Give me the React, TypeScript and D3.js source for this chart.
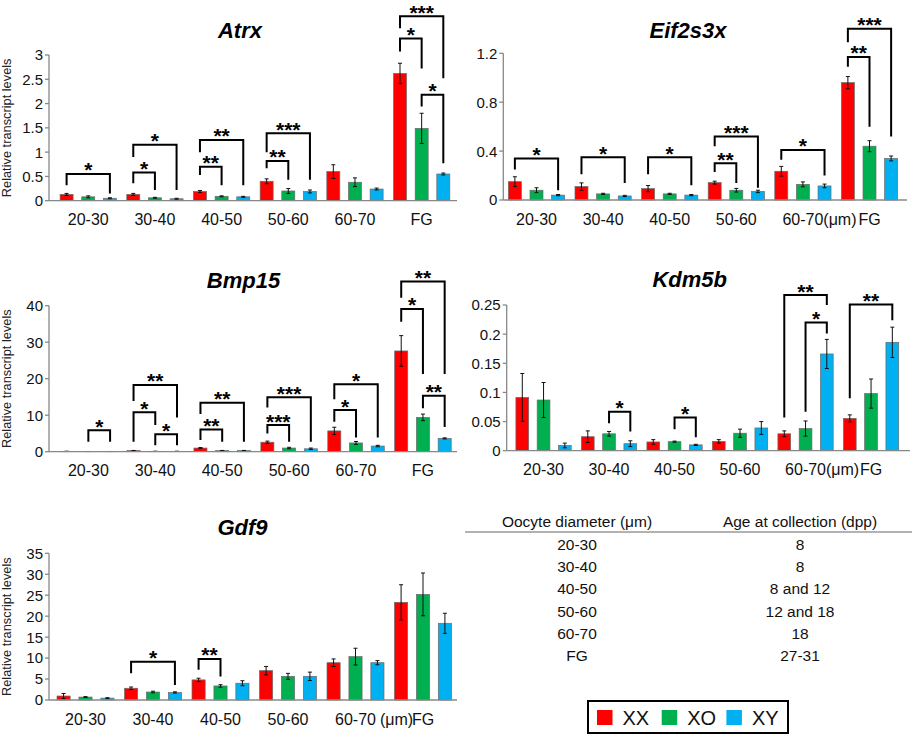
import * as d3 from "d3";

const FONT = "'Liberation Sans', Arial, sans-serif";

const categories = ["20-30", "30-40", "40-50", "50-60", "60-70", "FG"];
const series = ["XX", "XO", "XY"];
const seriesColors = ["#FF0000", "#00B050", "#00B0F0"];
const unitLabel = "(\u03bcm)";

// Atrx
const atrxXX = [0.13, 0.13, 0.19, 0.4, 0.6, 2.62];
const atrxXO = [0.08, 0.06, 0.09, 0.2, 0.38, 1.49];
const atrxXY = [0.05, 0.04, 0.08, 0.19, 0.24, 0.55];
const atrxXXErr = [0.02, 0.02, 0.02, 0.05, 0.14, 0.21];
const atrxXOErr = [0.02, 0.01, 0.01, 0.05, 0.09, 0.31];
const atrxXYErr = [0.01, 0.01, 0.01, 0.03, 0.02, 0.02];
const atrxTicks = [0, 0.5, 1, 1.5, 2, 2.5, 3];
// [category, series a, series b, bracket level, leg a bottom, leg b bottom, label]
const atrxBrackets: [number, number, number, number, number, number, string][] = [
  [0, 0, 2, 0.55, 0.32, 0.15, "*"],
  [1, 0, 1, 0.58, 0.36, 0.22, "*"],
  [1, 0, 2, 1.15, 0.9, 0.22, "*"],
  [2, 0, 1, 0.7, 0.53, 0.32, "**"],
  [2, 0, 2, 1.25, 1.0, 0.32, "**"],
  [3, 0, 1, 0.82, 0.67, 0.43, "**"],
  [3, 0, 2, 1.39, 1.0, 0.43, "***"],
  [5, 0, 1, 3.34, 3.07, 2.72, "*"],
  [5, 0, 2, 3.8, 3.55, 2.52, "***"],
  [5, 1, 2, 2.18, 1.94, 0.77, "*"],
];

// Eif2s3x
const eifXX = [0.15, 0.11, 0.093, 0.142, 0.235, 0.96];
const eifXO = [0.08, 0.05, 0.05, 0.08, 0.128, 0.44];
const eifXY = [0.04, 0.033, 0.04, 0.07, 0.115, 0.34];
const eifXXErr = [0.04, 0.03, 0.025, 0.012, 0.04, 0.05];
const eifXOErr = [0.02, 0.005, 0.005, 0.015, 0.02, 0.045];
const eifXYErr = [0.005, 0.005, 0.005, 0.01, 0.015, 0.02];
const eifTicks = [0, 0.4, 0.8, 1.2];
const eifBrackets: [number, number, number, number, number, number, string][] = [
  [0, 0, 2, 0.34, 0.25, 0.08, "*"],
  [1, 0, 2, 0.35, 0.21, 0.14, "*"],
  [2, 0, 2, 0.35, 0.21, 0.12, "*"],
  [3, 0, 1, 0.3, 0.23, 0.14, "**"],
  [3, 0, 2, 0.52, 0.44, 0.1, "***"],
  [4, 0, 2, 0.41, 0.33, 0.2, "*"],
  [5, 0, 1, 1.17, 1.09, 0.6, "**"],
  [5, 0, 2, 1.4, 1.29, 0.52, "***"],
];

// Bmp15
const bmpXX = [0.1, 0.3, 1.0, 2.6, 5.7, 27.6];
const bmpXO = [0.05, 0.1, 0.3, 1.0, 2.4, 9.4];
const bmpXY = [0.05, 0.1, 0.3, 0.8, 1.55, 3.65];
const bmpXXErr = [0.02, 0.05, 0.15, 0.3, 1.0, 4.2];
const bmpXOErr = [0.01, 0.02, 0.05, 0.2, 0.4, 0.9];
const bmpXYErr = [0.01, 0.02, 0.05, 0.2, 0.2, 0.15];
const bmpTicks = [0, 10, 20, 30, 40];
const bmpBrackets: [number, number, number, number, number, number, string][] = [
  [0, 1, 2, 5.9, 2.7, 2.7, "*"],
  [1, 0, 1, 10.8, 2.7, 7.3, "*"],
  [1, 1, 2, 4.8, 1.8, 1.8, "*"],
  [1, 0, 2, 18.3, 13.9, 9.4, "**"],
  [2, 0, 1, 6.1, 3.2, 2.7, "**"],
  [2, 0, 2, 13.4, 10.3, 2.7, "**"],
  [3, 0, 1, 7.3, 5.0, 2.7, "***"],
  [3, 0, 2, 14.9, 12.1, 2.7, "***"],
  [4, 0, 1, 11.4, 8.2, 3.9, "*"],
  [4, 0, 2, 18.5, 14.4, 3.9, "*"],
  [5, 0, 1, 39.1, 35.6, 21.3, "*"],
  [5, 0, 2, 46.6, 42.2, 21.3, "**"],
  [5, 1, 2, 15.3, 11.9, 6.8, "**"],
];

// Kdm5b
const kdmXX = [0.0915, 0.024, 0.015, 0.016, 0.029, 0.0555];
const kdmXO = [0.087, 0.029, 0.0155, 0.03, 0.038, 0.098];
const kdmXY = [0.009, 0.012, 0.01, 0.039, 0.166, 0.186];
const kdmXXErr = [0.041, 0.01, 0.004, 0.003, 0.005, 0.006];
const kdmXOErr = [0.03, 0.004, 0.001, 0.007, 0.013, 0.025];
const kdmXYErr = [0.004, 0.005, 0.001, 0.011, 0.025, 0.026];
const kdmTicks = [0, 0.05, 0.1, 0.15, 0.2, 0.25];
const kdmBrackets: [number, number, number, number, number, number, string][] = [
  [1, 1, 2, 0.067, 0.047, 0.033, "*"],
  [2, 1, 2, 0.057, 0.037, 0.023, "*"],
  [4, 0, 2, 0.267, 0.057, 0.25, "**"],
  [4, 1, 2, 0.22, 0.067, 0.201, "*"],
  [5, 0, 2, 0.251, 0.09, 0.224, "**"],
];

// Gdf9
const gdfXX = [0.95, 2.8, 4.8, 7.0, 8.9, 23.3];
const gdfXO = [0.7, 1.9, 3.35, 5.65, 10.35, 25.2];
const gdfXY = [0.45, 1.8, 4.0, 5.65, 8.9, 18.3];
const gdfXXErr = [0.6, 0.3, 0.4, 1.0, 0.9, 4.2];
const gdfXOErr = [0.1, 0.2, 0.3, 0.7, 2.0, 5.1];
const gdfXYErr = [0.1, 0.15, 0.6, 1.0, 0.5, 2.4];
const gdfTicks = [0, 5, 10, 15, 20, 25, 30, 35];
const gdfBrackets: [number, number, number, number, number, number, string][] = [
  [1, 0, 2, 9.15, 6.4, 3.6, "*"],
  [2, 0, 1, 9.8, 7.2, 5.6, "**"],
];

// table
const tableHeaders = ["Oocyte diameter (\u03bcm)", "Age at collection (dpp)"];
const tableDiameters = ["20-30", "30-40", "40-50", "50-60", "60-70", "FG"];
const tableAges = ["8", "8", "8 and 12", "12 and 18", "18", "27-31"];

type PanelProps = {
  title: string;
  values: number[][];
  errors: number[][];
  ticks: number[];
  brackets: [number, number, number, number, number, number, string][];
  axisX: number;
  axisEnd: number;
  band: [number, number];
  yRange: [number, number];
  titleX: number;
  titleY: number;
  yLabel?: boolean;
  unitGap?: number; // if set, "(μm)" follows the 60-70 label
};

const Panel = (p: PanelProps) => {
  const x0 = d3.scaleBand().domain(categories).range(p.band);
  const x1 = d3
    .scaleBand()
    .domain(series)
    .range([0, x0.bandwidth()])
    .paddingInner(0.4)
    .paddingOuter(0.24);
  const y = d3
    .scaleLinear()
    .domain([0, p.ticks[p.ticks.length - 1]])
    .range(p.yRange);
  const cx = (ci: number, si: number) =>
    (x0(categories[ci]) || 0) + (x1(series[si]) || 0) + x1.bandwidth() / 2;
  const y0 = y(0);

  return (
    <g fontFamily={FONT}>
      <text
        x={p.titleX}
        y={p.titleY}
        textAnchor="middle"
        fontSize={22}
        fontWeight="bold"
        fontStyle="italic"
      >
        {p.title}
      </text>
      {p.yLabel && (
        <text
          transform={`translate(11,${(p.yRange[0] + p.yRange[1]) / 2}) rotate(-90)`}
          textAnchor="middle"
          fontSize={12.8}
          fill="#222"
        >
          Relative transcript levels
        </text>
      )}
      {/* bars */}
      {p.values.map((vals, si) =>
        vals.map((v, ci) => (
          <rect
            key={`b${si}-${ci}`}
            x={cx(ci, si) - x1.bandwidth() / 2}
            y={y(v)}
            width={x1.bandwidth()}
            height={y0 - y(v)}
            fill={seriesColors[si]}
            stroke="#6b6b6b"
            strokeWidth={0.7}
          />
        ))
      )}
      {/* error bars */}
      {p.errors.map((errs, si) =>
        errs.map((e, ci) => {
          const v = p.values[si][ci];
          const x = cx(ci, si);
          const top = y(v + e);
          const bot = y(Math.max(0, v - e));
          return (
            <g key={`e${si}-${ci}`} stroke="#111" strokeWidth={1}>
              <line x1={x} x2={x} y1={top} y2={bot} />
              <line x1={x - 2} x2={x + 2} y1={top} y2={top} />
              <line x1={x - 2} x2={x + 2} y1={bot} y2={bot} />
            </g>
          );
        })
      )}
      {/* axes */}
      <line x1={p.axisX} x2={p.axisX} y1={y(p.ticks[p.ticks.length - 1])} y2={y0} stroke="#888" strokeWidth={1.3} />
      <line x1={p.axisX} x2={p.axisEnd} y1={y0} y2={y0} stroke="#888" strokeWidth={1.3} />
      {p.ticks.map((t) => (
        <g key={`t${t}`}>
          <line x1={p.axisX - 4} x2={p.axisX} y1={y(t)} y2={y(t)} stroke="#888" strokeWidth={1.3} />
          <text x={p.axisX - 6} y={y(t)} dy="0.36em" textAnchor="end" fontSize={15} fill="#111">
            {String(t)}
          </text>
        </g>
      ))}
      {categories.map((c) => {
        const center = (x0(c) || 0) + x0.bandwidth() / 2;
        return (
          <g key={`c${c}`}>
            <text x={center} y={y0 + 24.5} textAnchor="middle" fontSize={16} fill="#111">
              {c}
            </text>
            {c === "60-70" && p.unitGap !== undefined && (
              <text x={center + 20.4 + p.unitGap} y={y0 + 24.5} fontSize={16} fill="#111">
                {unitLabel}
              </text>
            )}
          </g>
        );
      })}
      {/* significance brackets */}
      {p.brackets.map(([ci, sa, sb, lvl, la, lb, lab], i) => {
        const xa = cx(ci, sa);
        const xb = cx(ci, sb);
        const yl = y(lvl);
        return (
          <g key={`s${i}`}>
            <path
              d={`M${xa},${y(la)}V${yl}H${xb}V${y(lb)}`}
              fill="none"
              stroke="#000"
              strokeWidth={2}
            />
            <text x={(xa + xb) / 2} y={yl + 3.5} textAnchor="middle" fontSize={21} fontWeight="bold">
              {lab}
            </text>
          </g>
        );
      })}
    </g>
  );
};

export default function App() {
  const rowY = d3.scaleLinear().domain([0, tableDiameters.length - 1]).range([550, 661]);
  return (
    <div style={{ position: "fixed", left: 0, top: 0 }}>
      <svg width={913} height={736} style={{ display: "block", background: "#fff" }}>
        <Panel
          title="Atrx"
          values={[atrxXX, atrxXO, atrxXY]}
          errors={[atrxXXErr, atrxXOErr, atrxXYErr]}
          ticks={atrxTicks}
          brackets={atrxBrackets}
          axisX={49}
          axisEnd={457}
          band={[54.9, 455]}
          yRange={[200.7, 55]}
          titleX={240}
          titleY={38}
          yLabel
        />
        <Panel
          title="Eif2s3x"
          values={[eifXX, eifXO, eifXY]}
          errors={[eifXXErr, eifXOErr, eifXYErr]}
          ticks={eifTicks}
          brackets={eifBrackets}
          axisX={503.3}
          axisEnd={907}
          band={[503.2, 902.8]}
          yRange={[200, 53.3]}
          titleX={688}
          titleY={38}
          unitGap={0}
        />
        <Panel
          title="Bmp15"
          values={[bmpXX, bmpXO, bmpXY]}
          errors={[bmpXXErr, bmpXOErr, bmpXYErr]}
          ticks={bmpTicks}
          brackets={bmpBrackets}
          axisX={49}
          axisEnd={457}
          band={[54.9, 456.4]}
          yRange={[451.7, 305.7]}
          titleX={243.5}
          titleY={288}
          yLabel
        />
        <Panel
          title="Kdm5b"
          values={[kdmXX, kdmXO, kdmXY]}
          errors={[kdmXXErr, kdmXOErr, kdmXYErr]}
          ticks={kdmTicks}
          brackets={kdmBrackets}
          axisX={506.7}
          axisEnd={910}
          band={[510.8, 903.8]}
          yRange={[450.7, 305]}
          titleX={689.7}
          titleY={287}
          unitGap={0}
        />
        <Panel
          title="Gdf9"
          values={[gdfXX, gdfXO, gdfXY]}
          errors={[gdfXXErr, gdfXOErr, gdfXYErr]}
          ticks={gdfTicks}
          brackets={gdfBrackets}
          axisX={49}
          axisEnd={457}
          band={[51.75, 456.75]}
          yRange={[700, 553.3]}
          titleX={242.5}
          titleY={535}
          yLabel
          unitGap={4}
        />
        {/* table */}
        <g fontFamily={FONT} fontSize={15.5} fill="#111" textAnchor="middle">
          <text x={577} y={527}>{tableHeaders[0]}</text>
          <text x={800} y={527}>{tableHeaders[1]}</text>
          <line x1={465} x2={912} y1={532} y2={532} stroke="#999" strokeWidth={1.5} />
          {tableDiameters.map((d, i) => (
            <g key={d}>
              <text x={577} y={rowY(i)}>{d}</text>
              <text x={800} y={rowY(i)}>{tableAges[i]}</text>
            </g>
          ))}
        </g>
        {/* legend */}
        <g fontFamily={FONT}>
          <rect x={588} y={701} width={200} height={32} fill="#fff" stroke="#000" strokeWidth={2} />
          {series.map((s, i) => (
            <g key={s} transform={`translate(${597 + i * 64.7},0)`}>
              <rect x={0} y={710} width={15.5} height={15} fill={seriesColors[i]} />
              <text x={25.5} y={725} fontSize={20} fill="#111">
                {s}
              </text>
            </g>
          ))}
        </g>
      </svg>
    </div>
  );
}
